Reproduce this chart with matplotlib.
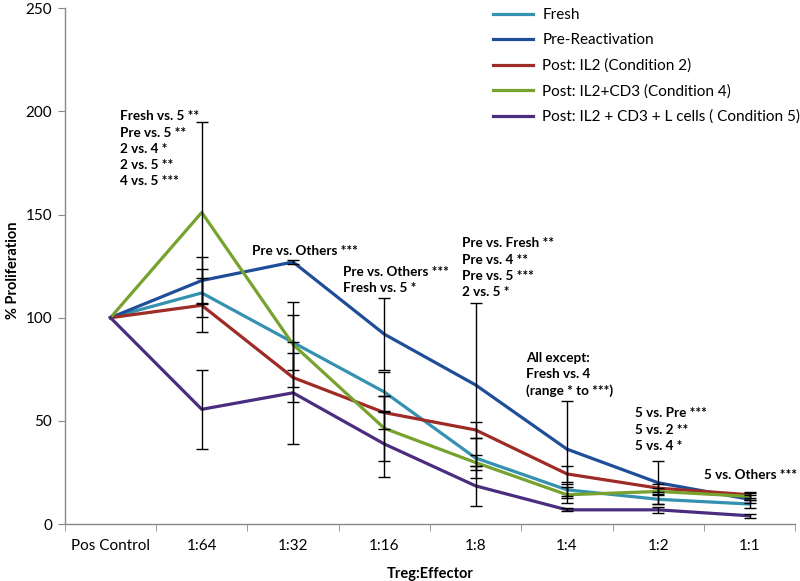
import numpy as np
import matplotlib
matplotlib.use("Agg")
import matplotlib.pyplot as plt

plt.rcParams['font.family'] = ['Lato', 'DejaVu Sans']

# categories on the x axis
ratios = ["Pos Control", "1:64", "1:32", "1:16", "1:8", "1:4", "1:2", "1:1"]

# mean % proliferation per condition
fresh = [100, 112, 88, 64, 32, 16.6, 12, 9.7]
pre_react = [100, 118, 127, 92, 67.4, 36.3, 20, 12]
post_il2 = [100, 106, 71, 54, 45.6, 24.3, 17.4, 14.2]
post_il2_cd3 = [100, 151, 87, 46.4, 29.8, 14.2, 15.8, 13.4]
post_il2_cd3_l = [100, 55.6, 63.6, 38.8, 18.5, 6.9, 6.9, 4.0]

# error bar half-widths (no bar at pos control)
fresh_err = [0, 11.5, 13.5, 9.8, 9.5, 3.0, 2.5, 2.0]
pre_err = [0, 11.6, 1.0, 17.5, 39.5, 23.5, 10.5, 2.0]
il2_err = [0, 13.0, 12.0, 8.0, 4.0, 4.0, 2.0, 1.5]
il2_cd3_err = [0, 44.0, 20.6, 15.8, 3.5, 4.0, 1.5, 1.5]
il2_cd3_l_err = [0, 19.0, 24.8, 15.8, 9.7, 0.8, 1.5, 1.0]

names = ["Fresh", "Pre-Reactivation", "Post: IL2 (Condition 2)",
         "Post: IL2+CD3 (Condition 4)", "Post: IL2 + CD3 + L cells ( Condition 5)"]
colors = ["#3591B0", "#1F4E99", "#9E2B26", "#77A22E", "#4B2D7F"]

series = [fresh, pre_react, post_il2, post_il2_cd3, post_il2_cd3_l]
errors = [fresh_err, pre_err, il2_err, il2_cd3_err, il2_cd3_l_err]

# significance notes: (x position in category units, y of first line, text)
notes = [
    (0.1, 200.5, "Fresh vs. 5 **\nPre vs. 5 **\n2 vs. 4 *\n2 vs. 5 **\n4 vs. 5 ***"),
    (1.55, 135, "Pre vs. Others ***"),
    (2.55, 125, "Pre vs. Others ***\nFresh vs. 5 *"),
    (3.85, 139, "Pre vs. Fresh **\nPre vs. 4 **\nPre vs. 5 ***\n2 vs. 5 *"),
    (4.55, 83.5, "All except:\nFresh vs. 4\n(range * to ***)"),
    (5.75, 56.5, "5 vs. Pre ***\n5 vs. 2 **\n5 vs. 4 *"),
    (6.5, 26.5, "5 vs. Others ***"),
]

fig = plt.figure(figsize=(8, 5.81), dpi=100)
ax = fig.add_axes([0.081, 0.098, 0.913, 0.888])

x = np.arange(len(ratios))
for vals, name, col in zip(series, names, colors):
    ax.plot(x, vals, color=col, lw=2.3, label=name, zorder=3)

for vals, errs in zip(series, errors):
    ax.errorbar(x[1:], vals[1:], yerr=errs[1:], fmt='none', ecolor='black',
                elinewidth=1.0, capsize=4, capthick=1.0, zorder=4)

for xi, yi, txt in notes:
    ax.text(xi, yi, txt, fontsize=9.7, fontweight='bold', va='top', ha='left',
            linespacing=1.43, zorder=5)

ax.set_xlim(-0.5, len(ratios) - 0.5)
ax.set_ylim(0, 250)
ax.set_yticks([0, 50, 100, 150, 200, 250])
ax.set_xticks(x)
ax.set_xticklabels(ratios, fontsize=11)
ax.set_xticks(np.arange(-0.5, len(ratios), 1), minor=True)
ax.tick_params(axis='x', which='major', length=0, pad=11)
ax.tick_params(axis='x', which='minor', length=5, color='#888888')
ax.tick_params(axis='y', labelsize=11, length=5, color='#888888', pad=4)

for s in ['top', 'right']:
    ax.spines[s].set_visible(False)
for s in ['left', 'bottom']:
    ax.spines[s].set_color('#888888')
    ax.spines[s].set_linewidth(1.0)

fig.text(0.016, 0.535, "% Proliferation", rotation=90, fontsize=10.5,
         fontweight='bold', ha='center', va='center')
ax.set_xlabel("Treg:Effector", fontsize=10.5, fontweight='bold', labelpad=10)

ax.legend(loc='upper left', bbox_to_anchor=(0.568, 1.027), frameon=False,
          fontsize=11, handlelength=2.6, handletextpad=0.6,
          labelspacing=0.74)

fig.savefig("out.png", dpi=100)
